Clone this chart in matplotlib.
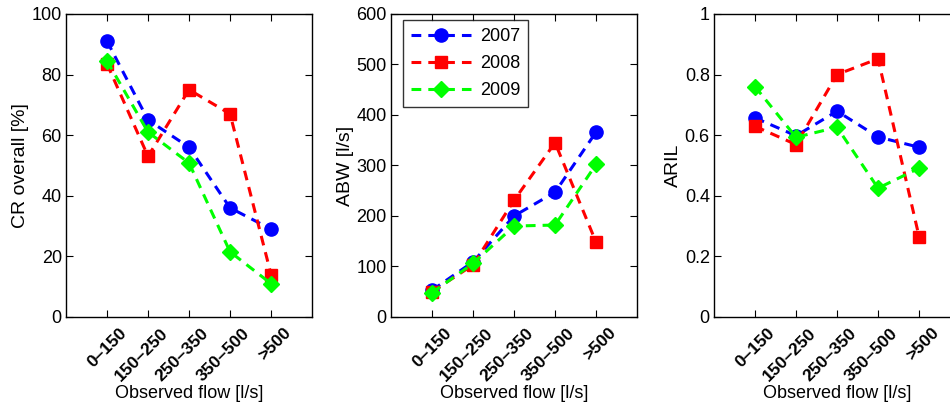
import matplotlib.pyplot as plt
import matplotlib.transforms as mtransforms
import numpy as np

plt.rcParams['font.family'] = ['Liberation Sans', 'DejaVu Sans']

categories = ['0–150', '150–250', '250–350', '350–500', '>500']
years = ['2007', '2008', '2009']

cr_overall = {
    '2007': [91, 65, 56, 36, 29],
    '2008': [83.5, 53, 75, 67, 14],
    '2009': [84.5, 61, 50.8, 21.5, 11],
}
abw = {
    '2007': [53, 109, 200, 247, 366],
    '2008': [50, 103, 231, 345, 148],
    '2009': [48, 106, 180, 182, 302],
}
aril = {
    '2007': [0.657, 0.598, 0.679, 0.594, 0.560],
    '2008': [0.629, 0.569, 0.800, 0.852, 0.265],
    '2009': [0.760, 0.593, 0.626, 0.425, 0.491],
}

styles = {
    '2007': dict(color=(0, 0, 1), marker='o', markersize=9.5),
    '2008': dict(color=(1, 0, 0), marker='s', markersize=9),
    '2009': dict(color=(0, 1, 0), marker='D', markersize=8.5),
}

panels = [
    (cr_overall, 'CR overall [%]', (0, 100), np.arange(0, 101, 20), [str(v) for v in range(0, 101, 20)]),
    (abw, 'ABW [l/s]', (0, 600), np.arange(0, 601, 100), [str(v) for v in range(0, 601, 100)]),
    (aril, 'ARIL', (0, 1), np.arange(0, 1.01, 0.2), ['0', '0.2', '0.4', '0.6', '0.8', '1']),
]

fig = plt.figure(figsize=(9.5, 4.09), dpi=100)
lefts = [0.0695, 0.4116, 0.7516]
x = np.arange(1, len(categories) + 1)
# nudge the rotated category labels a bit to the right of their ticks
label_shift = mtransforms.ScaledTranslation(12 / 100, 0, fig.dpi_scale_trans)

for left, (data, ylabel, ylim, yticks, yticklabels) in zip(lefts, panels):
    ax = fig.add_axes([left, 0.225, 0.259, 0.741])
    for yr in years:
        ax.plot(x, data[yr], linestyle='--', linewidth=2.2, dashes=(3.2, 2.3),
                markeredgecolor=styles[yr]['color'], label=yr, **styles[yr])
    ax.set_xlim(0, 6)
    ax.set_ylim(*ylim)
    ax.set_xticks(x)
    ax.set_yticks(yticks)
    ax.set_yticklabels(yticklabels, fontsize=13)
    ax.tick_params(direction='in', top=True, right=True, length=5, width=0.8)
    ax.tick_params(axis='y', pad=3)
    ax.tick_params(axis='x', pad=6)
    ax.set_xticklabels(categories, rotation=45, ha='right', va='top',
                       rotation_mode='anchor', fontweight='bold', fontsize=12.5)
    for lbl in ax.get_xticklabels():
        lbl.set_transform(lbl.get_transform() + label_shift)
    ax.set_xlabel('Observed flow [l/s]', fontsize=13, labelpad=1)
    ax.set_ylabel(ylabel, fontsize=14, labelpad=2)
    for sp in ax.spines.values():
        sp.set_linewidth(1.0)
    if ylabel == 'ABW [l/s]':
        leg = ax.legend(loc='upper left', fontsize=13, frameon=True, fancybox=False,
                        edgecolor='black', handlelength=3.3, borderpad=0.45,
                        labelspacing=0.55, handletextpad=0.5, borderaxespad=0,
                        bbox_to_anchor=(0.049, 0.98))
        leg.get_frame().set_linewidth(1.0)

fig.savefig('out.png', dpi=100)
